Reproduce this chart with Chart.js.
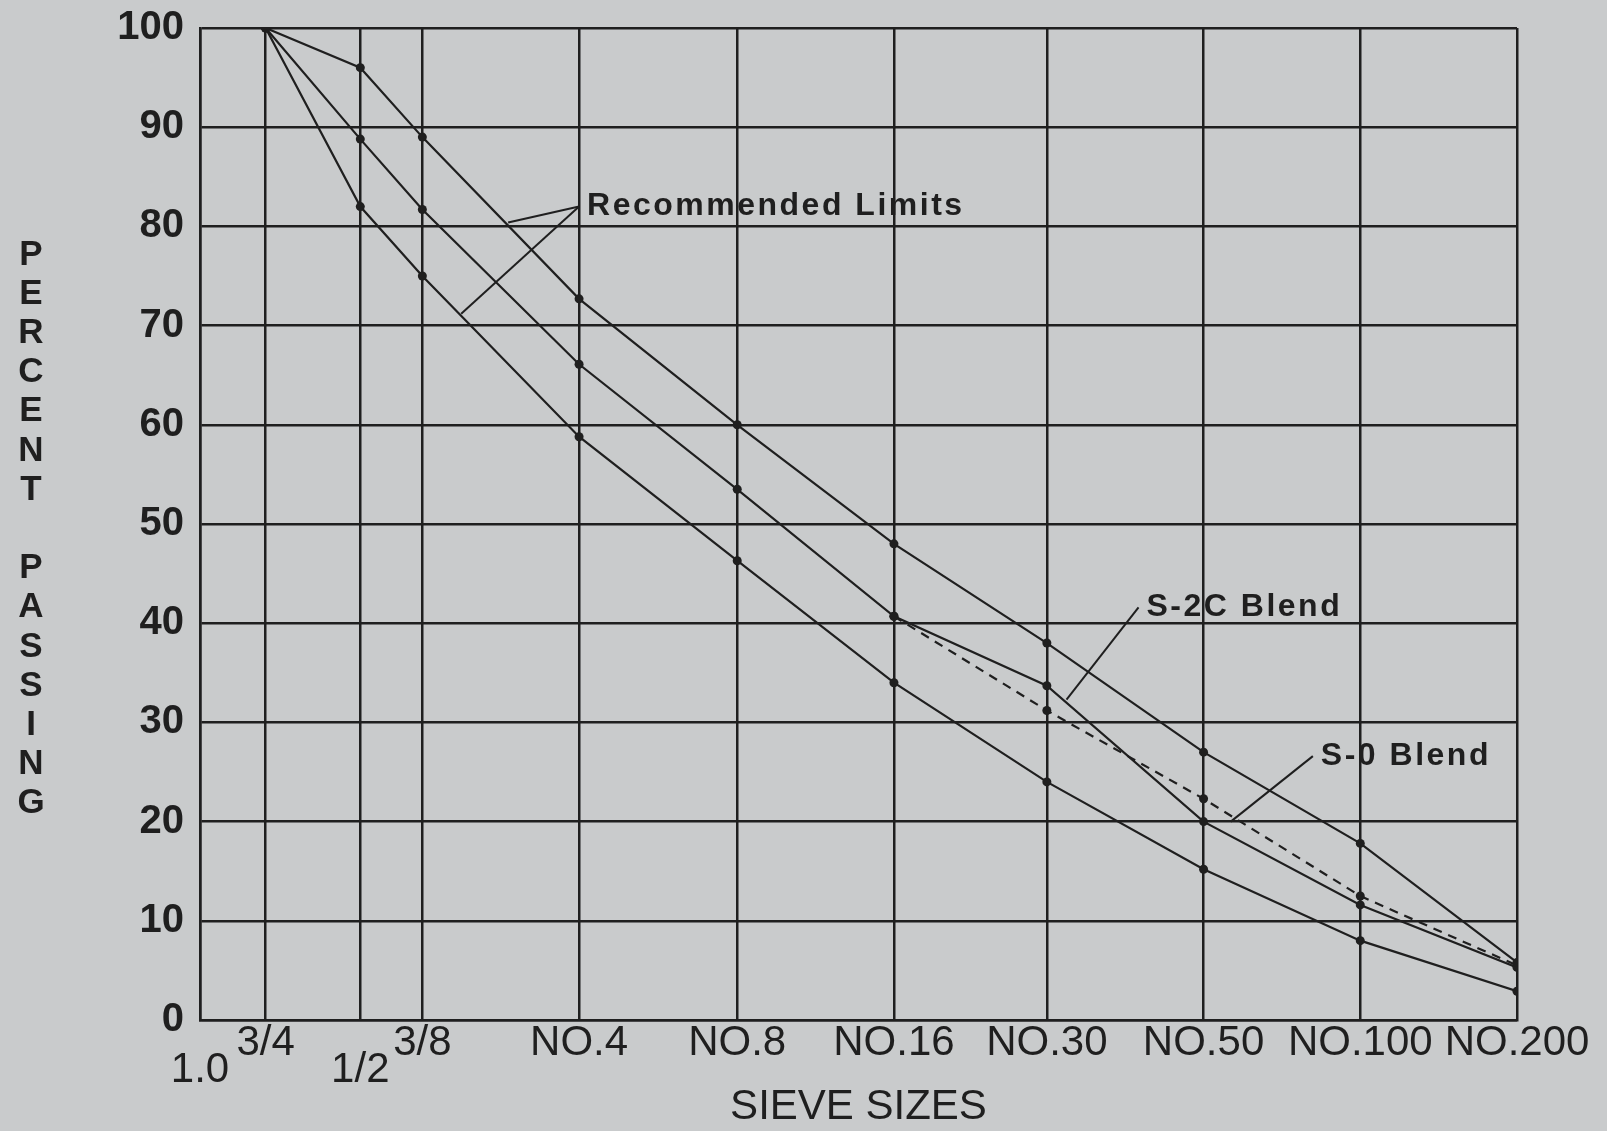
<!DOCTYPE html>
<html>
<head>
<meta charset="utf-8">
<script src="https://cdn.jsdelivr.net/npm/chart.js@4.4.1/dist/chart.umd.min.js"></script>
<style>
  html, body { margin: 0; padding: 0; background: #c9cbcc; }
  #wrap { width: 1607px; height: 1131px; }
</style>
</head>
<body>
<div id="wrap"><canvas id="grad"></canvas></div>
<script>
// sieve openings in mm, 1.0 in down to No.200
var sieveSizes = [25.4, 19, 12.5, 9.5, 4.75, 2.36, 1.18, 0.6, 0.3, 0.15, 0.075]
var sieveLabels = [['', '1.0'], '3/4', ['', '1/2'], '3/8', 'NO.4', 'NO.8', 'NO.16', 'NO.30', 'NO.50', 'NO.100', 'NO.200']

// percent passing, 3/4 .. No.200
var upperLimit = [100, 96, 89, 72.7, 60, 48, 38, 27, 17.8, 5.8]
var lowerLimit = [100, 82, 75, 58.8, 46.3, 34, 24, 15.2, 8, 2.9]
var blendS2C = [100, 88.8, 81.7, 66.1, 53.5, 40.7, 33.7, 20, 11.6, 5.3]
var blendS0 = [null, null, null, null, null, 40.7, 31.2, 22.3, 12.5, 5.5]

var yTicks = [0, 10, 20, 30, 40, 50, 60, 70, 80, 90, 100]

// callouts: text anchor and leader ends, in (mm, percent)
var notes = [
    { text: 'Recommended Limits', at: [4.75, 82.0], to: [[6.5, 80.4], [8.0, 71.2]] },
    { text: 'S-2C Blend', at: [0.40, 41.6], to: [[0.55, 32.3]] },
    { text: 'S-0 Blend', at: [0.185, 26.6], to: [[0.266, 20.0]] }
]

var ink = '#1f1f1f'
var pts = sieveSizes.slice(1)

function series(vals) {
    var out = []
    for (var i = 0; i < vals.length; i++) {
        if (vals[i] !== null) out.push({ x: pts[i], y: vals[i] })
    }
    return out
}

function lineSet(label, vals, dash) {
    return {
        label: label,
        data: series(vals),
        borderColor: ink,
        borderWidth: 2.2,
        borderDash: dash || [],
        pointRadius: 4.5,
        pointBackgroundColor: ink,
        pointBorderWidth: 0,
        tension: 0,
        fill: false
    }
}

var decor = {
    id: 'decor',
    afterDatasetsDraw: function (chart) {
        var ctx = chart.ctx
        var xs = chart.scales.x, ys = chart.scales.y
        ctx.save()
        ctx.strokeStyle = ink
        ctx.fillStyle = ink
        ctx.lineWidth = 2
        notes.forEach(function (n) {
            var ax = xs.getPixelForValue(n.at[0]), ay = ys.getPixelForValue(n.at[1])
            n.to.forEach(function (p) {
                ctx.beginPath()
                ctx.moveTo(ax, ay)
                ctx.lineTo(xs.getPixelForValue(p[0]), ys.getPixelForValue(p[1]))
                ctx.stroke()
            })
            ctx.font = 'bold 32px "Liberation Sans", Arial, sans-serif'
            ctx.letterSpacing = '2.5px'
            ctx.textAlign = 'left'
            ctx.textBaseline = 'middle'
            ctx.fillText(n.text, ax + 8, ay)
        })
        ctx.letterSpacing = '0px'

        // axis titles
        ctx.font = '42px "Liberation Sans", Arial, sans-serif'
        ctx.textAlign = 'center'
        ctx.textBaseline = 'middle'
        ctx.fillText('SIEVE SIZES', (chart.chartArea.left + chart.chartArea.right) / 2, 1107)

        ctx.font = 'bold 35px "Liberation Sans", Arial, sans-serif'
        var word = 'PERCENT PASSING'
        for (var i = 0; i < word.length; i++) {
            ctx.fillText(word[i], 31, 255 + i * 39.2)
        }
        ctx.restore()
    }
}

var ctx = document.getElementById('grad').getContext('2d')
var myChart = new Chart(ctx, {
    type: 'line',
    data: {
        datasets: [
            lineSet('Upper limit', upperLimit),
            lineSet('Lower limit', lowerLimit),
            lineSet('S-2C Blend', blendS2C),
            lineSet('S-0 Blend', blendS0, [9, 7])
        ]
    },
    options: {
        responsive: true,
        maintainAspectRatio: false,
        animation: false,
        layout: { padding: { left: 0, right: 90, top: 28, bottom: 0 } },
        plugins: { legend: { display: false }, tooltip: { enabled: false } },
        scales: {
            x: {
                type: 'logarithmic',
                reverse: true,
                min: 0.075,
                max: 25.4,
                afterBuildTicks: function (scale) {
                    scale.ticks = sieveSizes.map(function (v) { return { value: v } })
                },
                afterFit: function (scale) {
                    scale.height = 111
                    scale.paddingLeft = 0
                    scale.paddingRight = 0
                },
                ticks: {
                    autoSkip: false,
                    maxRotation: 0,
                    minRotation: 0,
                    padding: 10,
                    color: ink,
                    font: { family: '"Liberation Sans", Arial, sans-serif', size: 42, lineHeight: '27px' },
                    callback: function (v, i) { return sieveLabels[i] }
                },
                grid: { color: ink, lineWidth: 2.5, drawTicks: false },
                border: { color: ink, width: 2.5 }
            },
            y: {
                min: 0,
                max: 100,
                afterBuildTicks: function (scale) {
                    scale.ticks = yTicks.map(function (v) { return { value: v } })
                },
                afterFit: function (scale) {
                    scale.width = 200
                    scale.paddingTop = 0
                    scale.paddingBottom = 0
                },
                ticks: {
                    padding: 16,
                    color: ink,
                    font: { family: '"Liberation Sans", Arial, sans-serif', size: 40, weight: 'bold' }
                },
                grid: { color: ink, lineWidth: 2.5, drawTicks: false },
                border: { color: ink, width: 2.5 }
            }
        }
    },
    plugins: [decor]
})
</script>
</body>
</html>
